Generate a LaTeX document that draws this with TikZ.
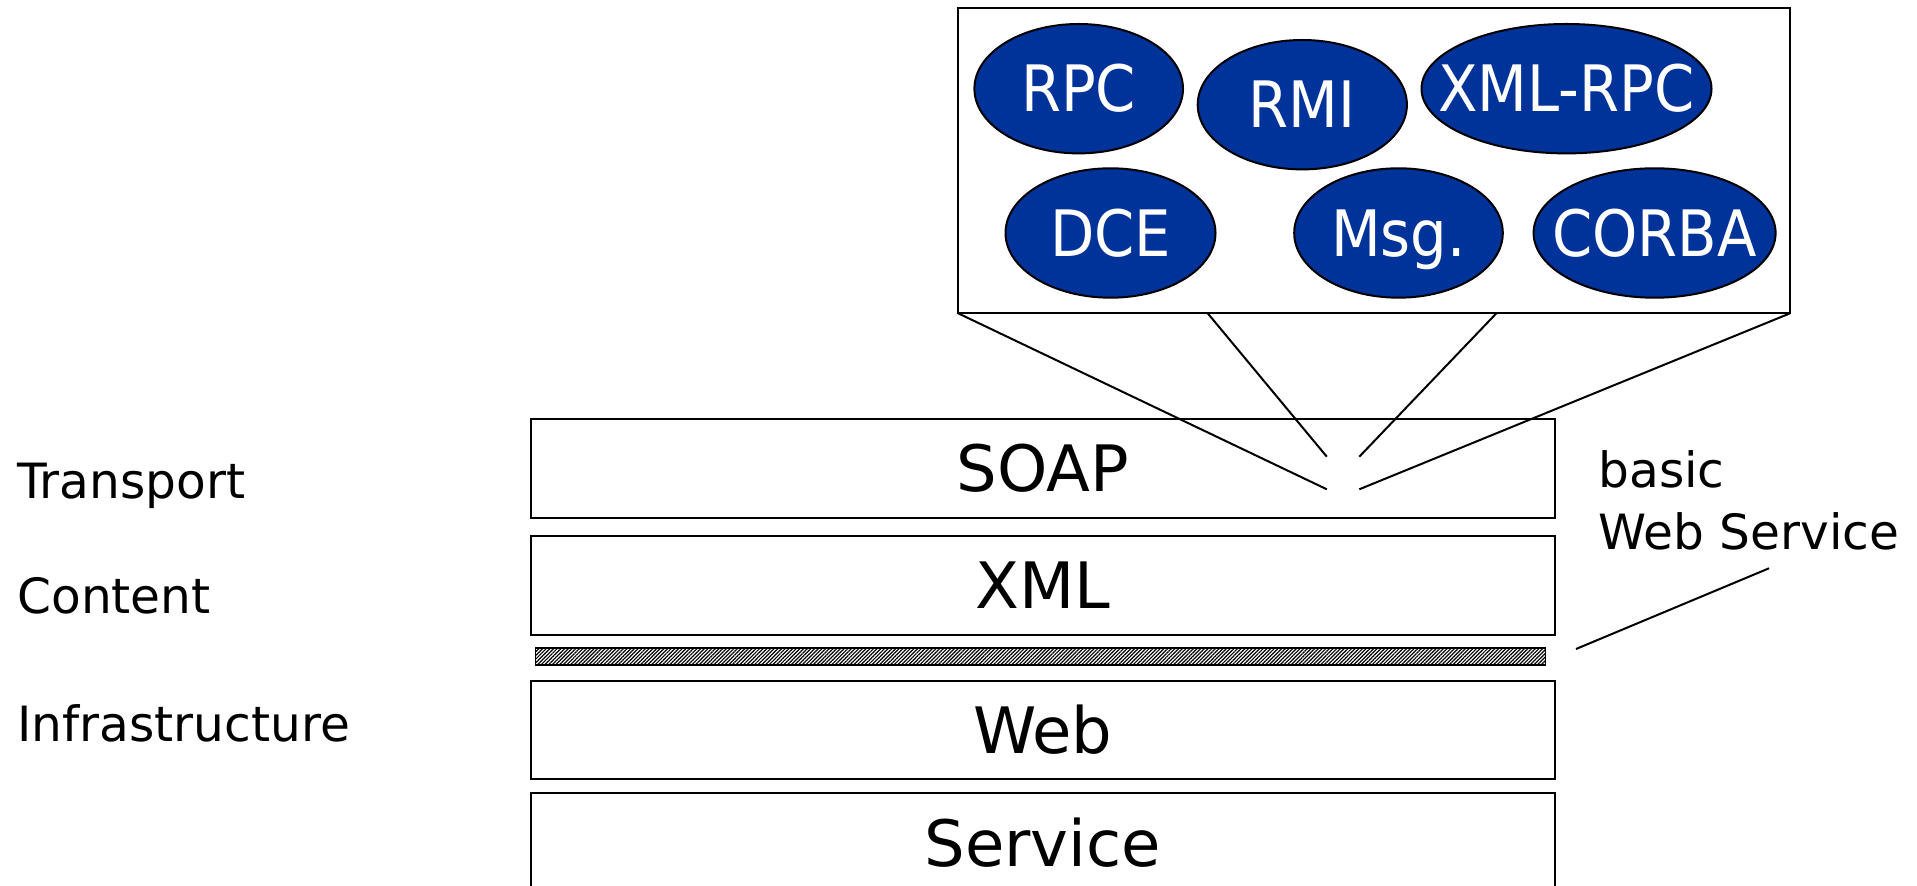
\documentclass[tikz,border=0pt]{standalone}
\usepackage{fontspec}
\setmainfont{DejaVu Sans}
\newfontfamily\narrowfont{DejaVu Sans}[FakeStretch=0.9]
\usetikzlibrary{shapes.geometric,patterns.meta,calc}
\definecolor{protoblue}{RGB}{0,51,153}
\newcommand{\nowidth}[1]{\makebox[0pt]{#1}}
\tikzset{%
  layer/.style    = {shape=rectangle, draw, line width=1pt,%
                     minimum width=512.25pt, minimum height=49.2pt,%
                     inner sep=0pt, outer sep=0pt,%
                     text height=23.3pt, text depth=0pt,%
                     font=\fontsize{32}{38}\selectfont},%
  proto/.style    = {ellipse, draw, line width=1pt, fill=protoblue,%
                     text=white, inner sep=0pt, minimum height=64.7pt,%
                     text height=23.3pt, text depth=0pt,%
                     font=\narrowfont\fontsize{32}{38}\selectfont},%
  side/.style     = {anchor=base west, inner sep=0pt,%
                     font=\fontsize{24.3}{29}\selectfont},%
  fan/.style      = {line width=1pt}%
}
\begin{document}
\begin{tikzpicture}[x=0.5pt, y=-0.5pt]
	\useasboundingbox (0,0) rectangle (1917,886);
	\clip (0,0) rectangle (1917,886);
	% stack
	\node (soap) at (1042.8,468.5) [layer] {SOAP};
	\node (xml) at (1042.8,585.6) [layer] {XML};
	\node (hatch) at (1040.5,656.5) [draw, line width=0.8pt, inner sep=0pt,
		minimum width=505pt, minimum height=8.5pt,
		pattern={Lines[angle=45,distance=1.3pt,line width=0.6pt]}] {};
	\node (web) at (1042.8,729.9) [layer] {Web};
	\node (service) at (1042.8,842.7) [layer] {Service};
	\node (transport) at (17,498.3) [side] {Transport};
	\node (content) at (17,613.3) [side] {Content};
	\node (infra) at (17,741.7) [side] {Infrastructure};
	\node (basic) at (1598,488) [side] {basic};
	\node (webserv) at (1598,550) [side] {Web Service};
	% protocols
	\node (protos) at (1374.1,160.8) [draw, line width=1pt, inner sep=0pt,
		outer sep=0pt, minimum width=416pt, minimum height=152.5pt] {};
	\node (rpc) at (1078.7,88.7) [proto, minimum width=104.3pt] {\nowidth{RPC}};
	\node (rmi) at (1302.3,104.7) [proto, minimum width=104.6pt] {\nowidth{RMI}};
	\node (xmlrpc) at (1566.5,88.7) [proto, minimum width=145pt] {\nowidth{XML-RPC}};
	\node (dce) at (1110.5,233) [proto, minimum width=105pt] {\nowidth{DCE}};
	\node (msg) at (1398.5,233) [proto, minimum width=104.3pt] {\nowidth{Msg.}};
	\node (corba) at (1654.6,233) [proto, minimum width=121pt] {\nowidth{CORBA}};
	\coordinate (fanla) at (1326.8,489.3);
	\coordinate (fanlb) at (1326.8,456.7);
	\coordinate (fanrb) at (1359.3,456.7);
	\coordinate (fanra) at (1359.3,489.3);
	\draw[fan] (protos.south west) -- (fanla);
	\draw[fan] ($(protos.south west)!0.3!(protos.south east)$) -- (fanlb);
	\draw[fan] ($(protos.south west)!0.647!(protos.south east)$) -- (fanrb);
	\draw[fan] (protos.south east) -- (fanra);
	\coordinate (wsfoot) at (1769,568.3);
	\coordinate (hatchtip) at (1576,649);
	\draw[fan] (wsfoot) -- (hatchtip);
\end{tikzpicture}
\end{document}
